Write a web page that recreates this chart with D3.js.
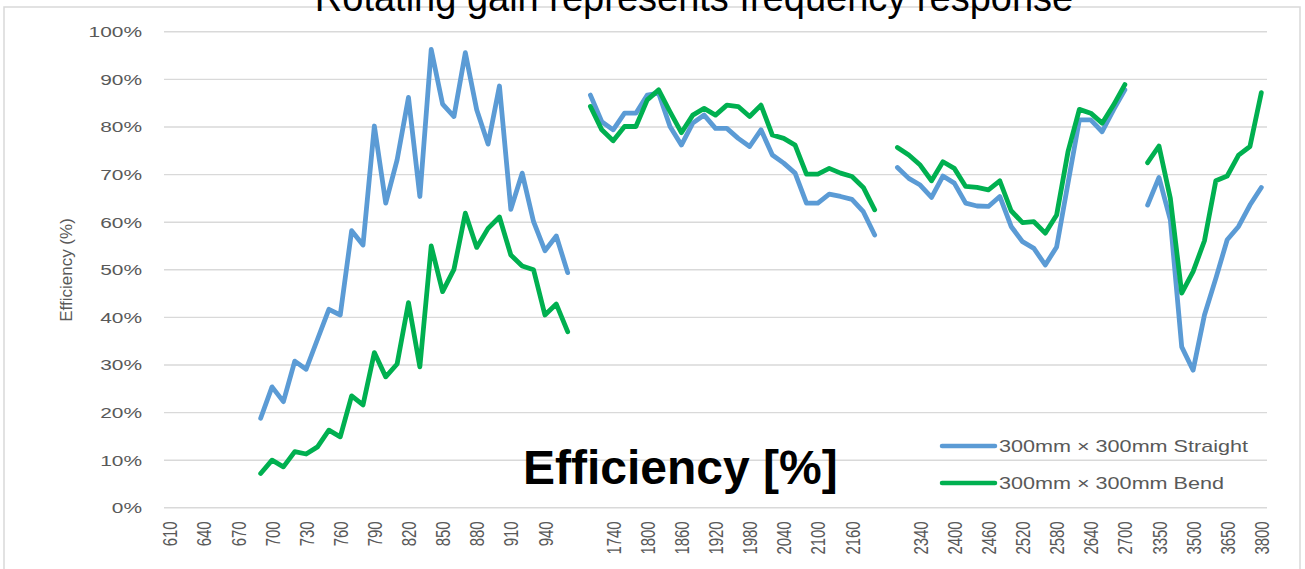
<!DOCTYPE html>
<html>
<head>
<meta charset="utf-8">
<script src="https://cdn.jsdelivr.net/npm/d3@7"></script>
<style>
  body { margin: 0; background: #fff; }
  svg { display: block; }
</style>
</head>
<body>
<div class="chart"></div>
<script>
// Category labels (frequency), "" marks an empty category that splits the lines
var categories = [
  "610","620","630","640","650","660","670","680","690","700","710","720","730","740","750","760","770","780",
  "790","800","810","820","830","840","850","860","870","880","890","900","910","920","930","940","950","960",
  "",
  "1700","1720","1740","1760","1780","1800","1820","1840","1860","1880","1900","1920","1940","1960","1980",
  "2000","2020","2040","2060","2080","2100","2120","2140","2160","2180","2200",
  "",
  "2300","2320","2340","2360","2380","2400","2420","2440","2460","2480","2500","2520","2540","2560","2580",
  "2600","2620","2640","2660","2680","2700",
  "",
  "3300","3350","3400","3450","3500","3550","3600","3650","3700","3750","3800"
];

// Efficiency in %, null where there is no measurement
var straight = [
  null, null, null, null, null, null, null, null,
  18.7, 25.3, 22.2, 30.7, 29.0, 35.3, 41.6, 40.4, 58.1, 55.1, 80.1, 63.9, 73.0, 86.1, 65.3, 96.2,
  84.7, 82.1, 95.5, 83.5, 76.3, 88.5, 62.6, 70.2, 60.0, 53.9, 57.0, 49.3,
  null,
  86.6, 81.0, 79.3, 82.8, 82.8, 86.6, 87.0, 80.0, 76.1, 80.7, 82.4, 79.6, 79.6, 77.5, 75.8, 79.3,
  74.0, 72.3, 70.2, 63.9, 63.9, 65.8, 65.3, 64.7, 62.1, 57.2,
  null,
  71.4, 69.1, 67.7, 65.1, 69.6, 68.1, 63.9, 63.3, 63.2, 65.3, 59.0, 55.8, 54.4, 50.9, 54.7, 68.1,
  81.4, 81.4, 78.9, 83.5, 87.7,
  null,
  63.5, 69.3, 60.4, 33.7, 28.8, 40.4, 48.1, 56.2, 59.0, 63.5, 67.2
];

var bend = [
  null, null, null, null, null, null, null, null,
  7.1, 9.9, 8.5, 11.7, 11.2, 12.7, 16.2, 14.8, 23.4, 21.5, 32.5, 27.4, 30.1, 43.0, 29.5, 54.9,
  45.3, 50.0, 61.8, 54.6, 58.6, 61.0, 53.0, 50.7, 49.9, 40.4, 42.7, 36.9,
  null,
  84.2, 79.3, 77.0, 80.0, 80.0, 85.6, 87.7, 83.1, 78.7, 82.4, 83.8, 82.4, 84.5, 84.2, 82.1, 84.5,
  78.2, 77.5, 76.1, 70.0, 70.0, 71.2, 70.2, 69.5, 67.2, 62.5,
  null,
  75.6, 74.0, 71.9, 68.6, 72.6, 71.2, 67.4, 67.2, 66.7, 68.6, 62.3, 59.8, 60.0, 57.6, 61.4, 74.7,
  83.6, 82.8, 80.7, 84.5, 88.8,
  null,
  72.4, 75.9, 64.9, 45.0, 49.5, 56.0, 68.6, 69.6, 74.0, 75.8, 87.1
];

var yTicks = [0, 10, 20, 30, 40, 50, 60, 70, 80, 90, 100];
var seriesNames = ["300mm \u00d7 300mm Straight", "300mm \u00d7 300mm Bend"];
var seriesColors = ["#5b9bd5", "#00b050"];

var svgWidth = 1305;
var svgHeight = 569;

// plot area (matches the gridlines of the picture)
var plot = { left: 164, right: 1267, top: 31.3, bottom: 507.3 };
var textStretch = 1.35;

var svg = d3.select(".chart")
  .append("svg")
  .attr("width", svgWidth)
  .attr("height", svgHeight);

// chart border
svg.append("rect")
  .attr("x", 4)
  .attr("y", 7)
  .attr("width", 1296)
  .attr("height", 600)
  .attr("fill", "none")
  .attr("stroke", "#d9d9d9")
  .attr("stroke-width", 1.5);

var xScale = d3.scalePoint()
  .domain(d3.range(categories.length))
  .range([plot.left, plot.right])
  .padding(0.5);

var yScale = d3.scaleLinear()
  .domain([0, 100])
  .range([plot.bottom, plot.top]);

// y axis with gridlines
var leftAxis = d3.axisLeft(yScale)
  .tickValues(yTicks)
  .tickSize(-(plot.right - plot.left))
  .tickPadding(0)
  .tickFormat(d => d + "%");

var yAxisGroup = svg.append("g")
  .attr("transform", `translate(${plot.left}, 0)`)
  .call(leftAxis);

yAxisGroup.select(".domain").remove();
yAxisGroup.selectAll(".tick line")
  .attr("stroke", "#d9d9d9")
  .attr("stroke-width", 1.4);
yAxisGroup.selectAll(".tick text")
  .attr("x", 0)
  .attr("dy", "0.35em")
  .attr("transform", `translate(-22, 0) scale(${textStretch}, 1)`)
  .attr("fill", "#595959")
  .style("font-family", "'Liberation Sans', Arial, sans-serif")
  .style("font-size", "15.5px");

// x axis, every third category labelled
var bottomAxis = d3.axisBottom(xScale)
  .tickValues(d3.range(0, categories.length, 3))
  .tickSize(0)
  .tickFormat(i => categories[i]);

var xAxisGroup = svg.append("g")
  .attr("transform", `translate(0, ${plot.bottom})`)
  .call(bottomAxis);

xAxisGroup.select(".domain").remove();
xAxisGroup.selectAll(".tick text")
  .attr("x", -14)
  .attr("y", 0)
  .attr("dy", "0.35em")
  .attr("text-anchor", "end")
  .attr("transform", `scale(${textStretch}, 1) rotate(-90)`)
  .attr("fill", "#595959")
  .style("font-family", "'Liberation Sans', Arial, sans-serif")
  .style("font-size", "15px");

// lines
var line = d3.line()
  .defined(d => d != null)
  .x((d, i) => xScale(i))
  .y(d => yScale(d));

[straight, bend].forEach(function (series, k) {
  svg.append("path")
    .datum(series)
    .attr("fill", "none")
    .attr("stroke", seriesColors[k])
    .attr("stroke-width", 4.8)
    .attr("stroke-linejoin", "round")
    .attr("stroke-linecap", "round")
    .attr("d", line);
});

// y axis title
svg.append("text")
  .attr("transform", "translate(72, 270) rotate(-90)")
  .attr("text-anchor", "middle")
  .attr("fill", "#595959")
  .style("font-family", "'Liberation Sans', Arial, sans-serif")
  .style("font-size", "17px")
  .text("Efficiency (%)");

// legend
var legend = svg.append("g");
seriesNames.forEach(function (name, k) {
  var ly = 446 + k * 37;
  legend.append("line")
    .attr("x1", 942).attr("x2", 995)
    .attr("y1", ly).attr("y2", ly)
    .attr("stroke", seriesColors[k])
    .attr("stroke-width", 4.5)
    .attr("stroke-linecap", "round");
  legend.append("text")
    .attr("transform", `translate(999, ${ly}) scale(${textStretch}, 1)`)
    .attr("dy", "0.35em")
    .attr("fill", "#595959")
    .style("font-family", "'Liberation Sans', Arial, sans-serif")
    .style("font-size", "16px")
    .text(name);
});

// big overlay label
svg.append("text")
  .attr("x", 523)
  .attr("y", 484)
  .attr("fill", "#000")
  .style("font-family", "'Liberation Sans', Arial, sans-serif")
  .style("font-weight", "bold")
  .style("font-size", "48px")
  .text("Efficiency [%]");

// slide heading, cut by the top edge as in the picture
svg.append("text")
  .attr("x", 694)
  .attr("y", 11)
  .attr("text-anchor", "middle")
  .attr("fill", "#000")
  .style("font-family", "'Liberation Sans', Arial, sans-serif")
  .style("font-size", "38px")
  .text("Rotating gain represents frequency response");
</script>
</body>
</html>
